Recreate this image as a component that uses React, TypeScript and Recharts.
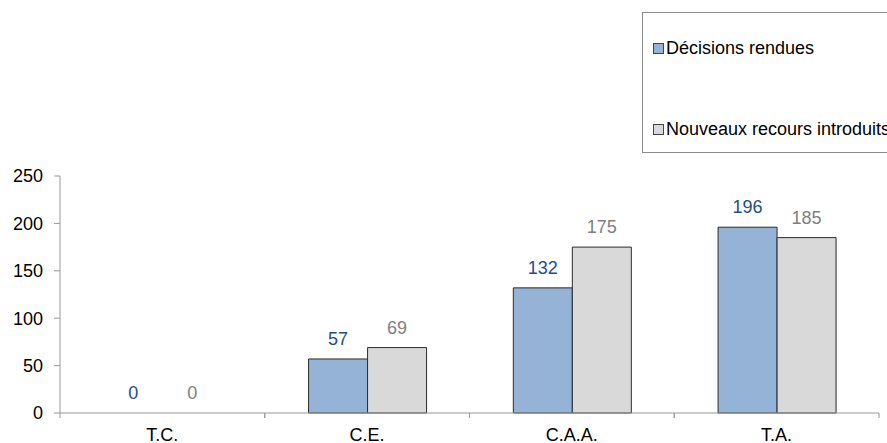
import React from "react";
import { BarChart, Bar, XAxis, YAxis, Legend, LabelList, Rectangle } from "recharts";

const categories = ["T.C.", "C.E.", "C.A.A.", "T.A."];
const decisionsRendues = [0, 57, 132, 196];
const nouveauxRecours = [0, 69, 175, 185];
const yTicks = [0, 50, 100, 150, 200, 250];

const data = categories.map((name, i) => ({
  name,
  decisions: decisionsRendues[i],
  recours: nouveauxRecours[i],
}));

const FONT = "'Liberation Sans', Arial, sans-serif";
const W = 887;
const H = 443;
const PLOT_LEFT = 60;
const PLOT_RIGHT = 879;
const BAND = (PLOT_RIGHT - PLOT_LEFT) / categories.length;

function CategoryTick(props: any) {
  const { x, y, payload } = props;
  const axisY = y - 15;
  return (
    <g>
      <line x1={x - BAND / 2} x2={x - BAND / 2} y1={axisY} y2={axisY + 5} stroke="#999" />
      <line x1={x + BAND / 2} x2={x + BAND / 2} y1={axisY} y2={axisY + 5} stroke="#999" />
      <text x={x} y={y} dy="0.71em" textAnchor="middle" fontSize={18} fill="#000" fontFamily={FONT}>
        {payload.value}
      </text>
    </g>
  );
}

function LegendBox() {
  const items = [
    { label: "Décisions rendues", color: "#95B3D7" },
    { label: "Nouveaux recours introduits", color: "#D9D9D9" },
  ];
  return (
    <div
      style={{
        width: 260,
        height: 141,
        border: "1px solid #8c8c8c",
        boxSizing: "border-box",
        position: "relative",
        fontFamily: FONT,
        fontSize: 18,
        background: "#fff",
      }}
    >
      {items.map((it, i) => (
        <div
          key={it.label}
          style={{
            position: "absolute",
            left: 10,
            top: 24 + i * 81,
            display: "flex",
            alignItems: "center",
            whiteSpace: "nowrap",
            lineHeight: "22px",
          }}
        >
          <span
            style={{
              width: 9,
              height: 9,
              background: it.color,
              border: "1px solid #444",
              display: "inline-block",
              marginRight: 2,
            }}
          />
          <span>{it.label}</span>
        </div>
      ))}
    </div>
  );
}

function ZeroSafeLabel(color: string) {
  return (props: any) => {
    const { x, y, width, height, value } = props;
    // zero bars get a 1px placeholder height, keep the label anchored on the axis
    const top = value === 0 ? y + height : y;
    return (
      <text
        x={x + width / 2}
        y={top - 14}
        textAnchor="middle"
        fontSize={18}
        fill={color}
        fontFamily={FONT}
      >
        {value}
      </text>
    );
  };
}

// hide the placeholder rectangle drawn for zero values
const BarShape = (props: any) => (props.value === 0 || props.height < 1.5 ? <g /> : <Rectangle {...props} />);

const zeroMin = (value: any) => (value === 0 ? 1 : 0);

export default function App() {
  return (
    <div style={{ position: "absolute", left: 0, top: 0, width: W, height: H, background: "#fff", overflow: "hidden" }}>
      <BarChart
        width={W}
        height={H}
        data={data}
        margin={{ top: 176, right: W - PLOT_RIGHT, left: 0, bottom: 0 }}
        barCategoryGap="21.4%"
        barGap={0}
      >
        <XAxis
          dataKey="name"
          height={30}
          axisLine={{ stroke: "#999" }}
          tickLine={false}
          tick={<CategoryTick />}
          tickSize={6}
          tickMargin={9}
          interval={0}
        />
        <YAxis
          width={PLOT_LEFT}
          domain={[0, 250]}
          ticks={yTicks}
          axisLine={{ stroke: "#999" }}
          tickLine={{ stroke: "#999" }}
          tickSize={6}
          tickMargin={11}
          tick={{ fontSize: 18, fill: "#000", fontFamily: FONT }}
        />
        <Legend
          layout="horizontal"
          verticalAlign="middle"
          align="center"
          content={<LegendBox />}
          wrapperStyle={{ position: "absolute", left: 642, top: 12, width: 260 }}
        />
        <Bar
          dataKey="decisions"
          fill="#95B3D7"
          stroke="#2b2b2b"
          strokeWidth={1}
          minPointSize={zeroMin}
          shape={BarShape}
          isAnimationActive={false}
        >
          <LabelList dataKey="decisions" content={ZeroSafeLabel("#1F4E85")} />
        </Bar>
        <Bar
          dataKey="recours"
          fill="#D9D9D9"
          stroke="#2b2b2b"
          strokeWidth={1}
          minPointSize={zeroMin}
          shape={BarShape}
          isAnimationActive={false}
        >
          <LabelList dataKey="recours" content={ZeroSafeLabel("#808080")} />
        </Bar>
      </BarChart>
    </div>
  );
}
